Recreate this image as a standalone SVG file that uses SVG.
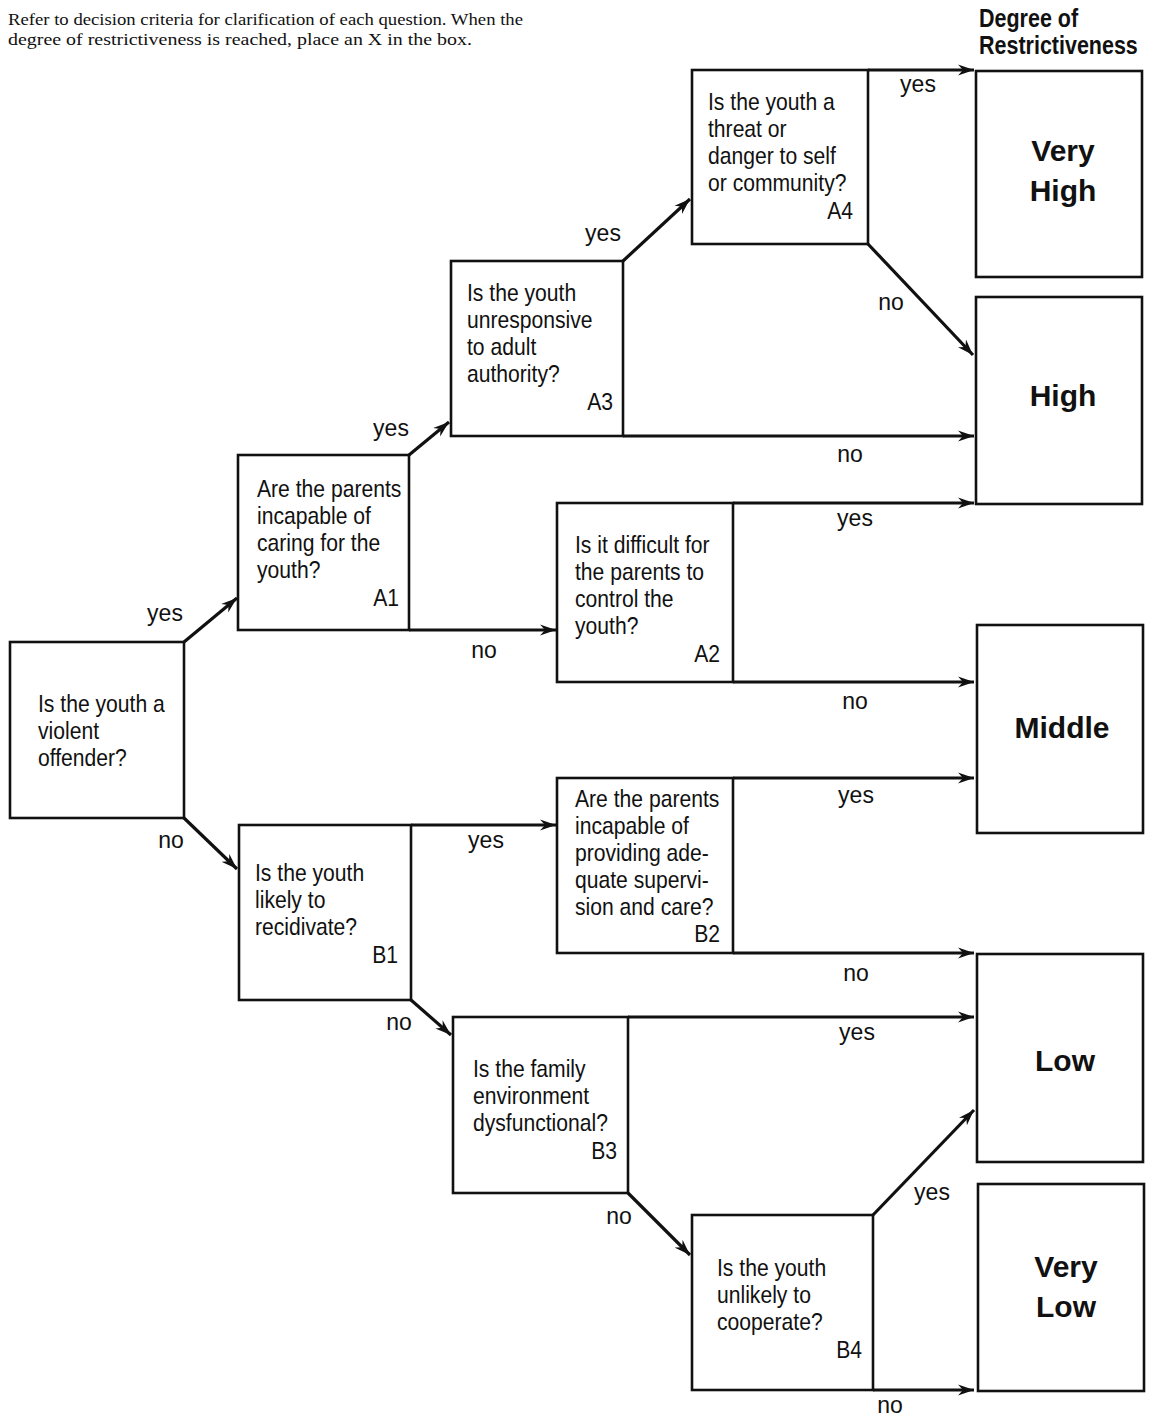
<svg xmlns="http://www.w3.org/2000/svg" width="1151" height="1419" viewBox="0 0 1151 1419">
<defs>
<marker id="arr" markerUnits="userSpaceOnUse" markerWidth="18" markerHeight="12" refX="16" refY="6" orient="auto">
<path d="M0,0.5 L16,6 L0,11.5 L5,6 z" fill="#111"/>
</marker>
<style>
.box{fill:#fff;stroke:#111;stroke-width:2.6}
.conn{fill:none;stroke:#111;stroke-width:3.2;marker-end:url(#arr)}
.q{font-family:"Liberation Sans",Arial,sans-serif;font-size:24px;fill:#111}
.id{font-family:"Liberation Sans",Arial,sans-serif;font-size:24px;fill:#111;text-anchor:end}
.lbl{font-family:"Liberation Sans",Arial,sans-serif;font-size:23px;fill:#111;text-anchor:middle}
.out{font-family:"Liberation Sans",Arial,sans-serif;font-size:30px;font-weight:bold;fill:#111;text-anchor:middle}
.hdr{font-family:"Liberation Sans",Arial,sans-serif;font-size:25px;font-weight:bold;fill:#111}
.note{font-family:"Liberation Serif","Times New Roman",serif;font-size:16.5px;fill:#111}
</style>
</defs>
<rect width="1151" height="1419" fill="#fff"/>

<g id="instructions">
<text class="note" x="8" y="25" textLength="515" lengthAdjust="spacingAndGlyphs">Refer to decision criteria for clarification of each question. When the</text>
<text class="note" x="8" y="45" textLength="464" lengthAdjust="spacingAndGlyphs">degree of restrictiveness is reached, place an X in the box.</text>
</g>

<g id="header">
<text class="hdr" transform="translate(979,27) scale(0.86,1)"><tspan x="0" y="0">Degree of</tspan><tspan x="0" y="27">Restrictiveness</tspan></text>
</g>

<g id="connectors">
<line class="conn" x1="184" y1="642" x2="237" y2="598"/>
<line class="conn" x1="184" y1="818" x2="237" y2="869"/>
<line class="conn" x1="409" y1="455" x2="449" y2="422"/>
<line class="conn" x1="409" y1="630" x2="556" y2="630"/>
<line class="conn" x1="623" y1="261" x2="690" y2="199"/>
<line class="conn" x1="623" y1="436" x2="974" y2="436"/>
<line class="conn" x1="868" y1="70" x2="974" y2="70"/>
<line class="conn" x1="868" y1="244" x2="973" y2="355"/>
<line class="conn" x1="733" y1="503" x2="974" y2="503"/>
<line class="conn" x1="733" y1="682" x2="974" y2="682"/>
<line class="conn" x1="411" y1="825" x2="556" y2="825"/>
<line class="conn" x1="411" y1="1000" x2="451" y2="1035"/>
<line class="conn" x1="733" y1="778" x2="974" y2="778"/>
<line class="conn" x1="733" y1="953" x2="974" y2="953"/>
<line class="conn" x1="628" y1="1017" x2="974" y2="1017"/>
<line class="conn" x1="628" y1="1193" x2="690" y2="1255"/>
<line class="conn" x1="873" y1="1215" x2="974" y2="1110"/>
<line class="conn" x1="873" y1="1390" x2="974" y2="1390"/>
<text class="lbl" x="918" y="92">yes</text>
<text class="lbl" x="603" y="241">yes</text>
<text class="lbl" x="891" y="310">no</text>
<text class="lbl" x="391" y="436">yes</text>
<text class="lbl" x="850" y="462">no</text>
<text class="lbl" x="855" y="526">yes</text>
<text class="lbl" x="165" y="621">yes</text>
<text class="lbl" x="484" y="658">no</text>
<text class="lbl" x="855" y="709">no</text>
<text class="lbl" x="856" y="803">yes</text>
<text class="lbl" x="171" y="848">no</text>
<text class="lbl" x="486" y="848">yes</text>
<text class="lbl" x="856" y="981">no</text>
<text class="lbl" x="399" y="1030">no</text>
<text class="lbl" x="857" y="1040">yes</text>
<text class="lbl" x="932" y="1200">yes</text>
<text class="lbl" x="619" y="1224">no</text>
<text class="lbl" x="890" y="1413">no</text>
</g>

<g id="Q0">
<rect class="box" x="10" y="642" width="174" height="176"/>
<text class="q" transform="translate(38,712) scale(0.88,1)"><tspan x="0" y="0">Is the youth a</tspan><tspan x="0" y="27">violent</tspan><tspan x="0" y="54">offender?</tspan></text>
</g>

<g id="A1">
<rect class="box" x="238" y="455" width="171" height="175"/>
<text class="q" transform="translate(257,497) scale(0.88,1)"><tspan x="0" y="0">Are the parents</tspan><tspan x="0" y="27">incapable of</tspan><tspan x="0" y="54">caring for the</tspan><tspan x="0" y="81">youth?</tspan></text>
<text class="id" transform="translate(399,606) scale(0.88,1)">A1</text>
</g>

<g id="A3">
<rect class="box" x="451" y="261" width="172" height="175"/>
<text class="q" transform="translate(467,301) scale(0.88,1)"><tspan x="0" y="0">Is the youth</tspan><tspan x="0" y="27">unresponsive</tspan><tspan x="0" y="54">to adult</tspan><tspan x="0" y="81">authority?</tspan></text>
<text class="id" transform="translate(613,410) scale(0.88,1)">A3</text>
</g>

<g id="A4">
<rect class="box" x="692" y="70" width="176" height="174"/>
<text class="q" transform="translate(708,110) scale(0.88,1)"><tspan x="0" y="0">Is the youth a</tspan><tspan x="0" y="27">threat or</tspan><tspan x="0" y="54">danger to self</tspan><tspan x="0" y="81">or community?</tspan></text>
<text class="id" transform="translate(853,219) scale(0.88,1)">A4</text>
</g>

<g id="A2">
<rect class="box" x="557" y="503" width="176" height="179"/>
<text class="q" transform="translate(575,553) scale(0.88,1)"><tspan x="0" y="0">Is it difficult for</tspan><tspan x="0" y="27">the parents to</tspan><tspan x="0" y="54">control the</tspan><tspan x="0" y="81">youth?</tspan></text>
<text class="id" transform="translate(720,662) scale(0.88,1)">A2</text>
</g>

<g id="B1">
<rect class="box" x="239" y="825" width="172" height="175"/>
<text class="q" transform="translate(255,881) scale(0.88,1)"><tspan x="0" y="0">Is the youth</tspan><tspan x="0" y="27">likely to</tspan><tspan x="0" y="54">recidivate?</tspan></text>
<text class="id" transform="translate(398,963) scale(0.88,1)">B1</text>
</g>

<g id="B2">
<rect class="box" x="557" y="778" width="176" height="175"/>
<text class="q" transform="translate(575,807) scale(0.88,1)"><tspan x="0" y="0">Are the parents</tspan><tspan x="0" y="27">incapable of</tspan><tspan x="0" y="54">providing ade-</tspan><tspan x="0" y="81">quate supervi-</tspan><tspan x="0" y="108">sion and care?</tspan></text>
<text class="id" transform="translate(720,942) scale(0.88,1)">B2</text>
</g>

<g id="B3">
<rect class="box" x="453" y="1017" width="175" height="176"/>
<text class="q" transform="translate(473,1077) scale(0.88,1)"><tspan x="0" y="0">Is the family</tspan><tspan x="0" y="27">environment</tspan><tspan x="0" y="54">dysfunctional?</tspan></text>
<text class="id" transform="translate(617,1159) scale(0.88,1)">B3</text>
</g>

<g id="B4">
<rect class="box" x="692" y="1215" width="181" height="175"/>
<text class="q" transform="translate(717,1276) scale(0.88,1)"><tspan x="0" y="0">Is the youth</tspan><tspan x="0" y="27">unlikely to</tspan><tspan x="0" y="54">cooperate?</tspan></text>
<text class="id" transform="translate(862,1358) scale(0.88,1)">B4</text>
</g>

<g id="very-high">
<rect class="box" x="976" y="71" width="166" height="206"/>
<text class="out" x="1063" y="161">Very</text>
<text class="out" x="1063" y="201">High</text>
</g>

<g id="high">
<rect class="box" x="976" y="297" width="166" height="207"/>
<text class="out" x="1063" y="406">High</text>
</g>

<g id="middle">
<rect class="box" x="977" y="625" width="166" height="208"/>
<text class="out" x="1062" y="738">Middle</text>
</g>

<g id="low">
<rect class="box" x="977" y="954" width="166" height="208"/>
<text class="out" x="1065" y="1071">Low</text>
</g>

<g id="very-low">
<rect class="box" x="978" y="1184" width="166" height="207"/>
<text class="out" x="1066" y="1277">Very</text>
<text class="out" x="1066" y="1317">Low</text>
</g>
</svg>
